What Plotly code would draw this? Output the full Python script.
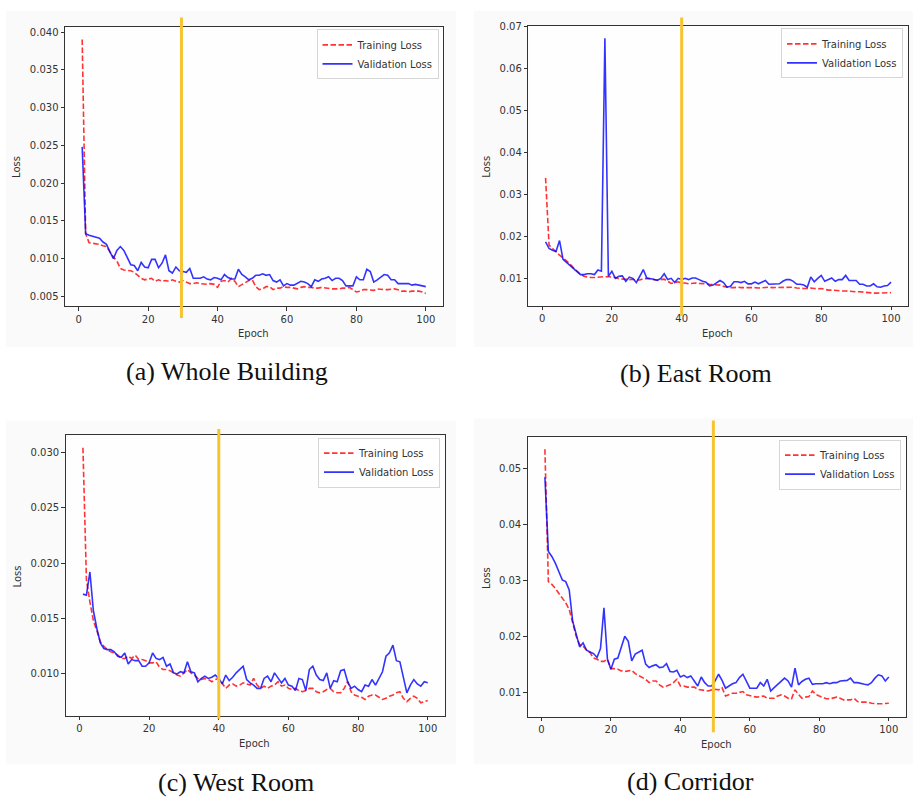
import plotly.graph_objects as go

epochs = list(range(1, 101))

train_whole = [0.0390, 0.0133, 0.0121, 0.0120, 0.0120, 0.0119, 0.0117, 0.0116, 0.0109, 0.0102,
               0.0097, 0.0087, 0.0085, 0.0085, 0.0084, 0.0082, 0.0078, 0.0074, 0.0072, 0.0073,
               0.0074, 0.0070, 0.0072, 0.0070, 0.0071, 0.0070, 0.0072, 0.0070, 0.0069, 0.0071,
               0.0069, 0.0067, 0.0067, 0.0068, 0.0067, 0.0066, 0.0066, 0.0067, 0.0066, 0.0062,
               0.0070, 0.0071, 0.0069, 0.0074, 0.0070, 0.0063, 0.0066, 0.0069, 0.0071, 0.0072,
               0.0063, 0.0059, 0.0060, 0.0063, 0.0063, 0.0059, 0.0061, 0.0061, 0.0063, 0.0062,
               0.0062, 0.0061, 0.0060, 0.0062, 0.0063, 0.0062, 0.0062, 0.0061, 0.0061, 0.0062,
               0.0061, 0.0060, 0.0060, 0.0060, 0.0060, 0.0061, 0.0061, 0.0062, 0.0059, 0.0056,
               0.0057, 0.0059, 0.0059, 0.0058, 0.0058, 0.0060, 0.0059, 0.0059, 0.0059, 0.0060,
               0.0060, 0.0059, 0.0057, 0.0057, 0.0056, 0.0057, 0.0057, 0.0057, 0.0056, 0.0054]
val_whole = [0.0248, 0.0133, 0.0131, 0.0130, 0.0129, 0.0127, 0.0122, 0.0119, 0.0109, 0.0100,
             0.0111, 0.0116, 0.0111, 0.0102, 0.0092, 0.0091, 0.0084, 0.0095, 0.0089, 0.0088,
             0.0099, 0.0099, 0.0088, 0.0094, 0.0105, 0.0084, 0.0081, 0.0089, 0.0084, 0.0083,
             0.0082, 0.0087, 0.0074, 0.0074, 0.0074, 0.0076, 0.0073, 0.0072, 0.0075, 0.0074,
             0.0072, 0.0079, 0.0075, 0.0073, 0.0073, 0.0086, 0.0079, 0.0076, 0.0072, 0.0074,
             0.0078, 0.0078, 0.0080, 0.0078, 0.0079, 0.0071, 0.0069, 0.0072, 0.0064, 0.0067,
             0.0065, 0.0065, 0.0067, 0.0070, 0.0069, 0.0067, 0.0063, 0.0072, 0.0070, 0.0073,
             0.0074, 0.0076, 0.0071, 0.0074, 0.0074, 0.0071, 0.0064, 0.0064, 0.0064, 0.0076,
             0.0072, 0.0072, 0.0086, 0.0083, 0.0069, 0.0072, 0.0075, 0.0079, 0.0078, 0.0072,
             0.0072, 0.0067, 0.0067, 0.0067, 0.0067, 0.0065, 0.0066, 0.0065, 0.0064, 0.0063]

train_east = [0.0340, 0.0180, 0.0172, 0.0163, 0.0156, 0.0150, 0.0143, 0.0135, 0.0126, 0.0118,
              0.0111, 0.0106, 0.0104, 0.0103, 0.0103, 0.0104, 0.0104, 0.0105, 0.0105, 0.0104,
              0.0103, 0.0100, 0.0099, 0.0099, 0.0098, 0.0099, 0.0097, 0.0097, 0.0100, 0.0101,
              0.0099, 0.0098, 0.0097, 0.0098, 0.0099, 0.0094, 0.0089, 0.0091, 0.0093, 0.0090,
              0.0090, 0.0088, 0.0089, 0.0090, 0.0089, 0.0089, 0.0088, 0.0087, 0.0086, 0.0085,
              0.0085, 0.0082, 0.0080, 0.0079, 0.0079, 0.0080, 0.0079, 0.0079, 0.0080, 0.0079,
              0.0079, 0.0078, 0.0079, 0.0079, 0.0080, 0.0079, 0.0079, 0.0080, 0.0079, 0.0079,
              0.0079, 0.0080, 0.0078, 0.0077, 0.0077, 0.0077, 0.0078, 0.0077, 0.0076, 0.0077,
              0.0075, 0.0073, 0.0073, 0.0072, 0.0072, 0.0071, 0.0071, 0.0070, 0.0070, 0.0069,
              0.0069, 0.0068, 0.0067, 0.0067, 0.0066, 0.0066, 0.0066, 0.0066, 0.0066, 0.0067]
val_east = [0.0188, 0.0172, 0.0168, 0.0165, 0.0191, 0.0146, 0.0139, 0.0132, 0.0124, 0.0118,
            0.0110, 0.0110, 0.0112, 0.0112, 0.0110, 0.0121, 0.0118, 0.0672, 0.0106, 0.0118,
            0.0101, 0.0106, 0.0107, 0.0094, 0.0104, 0.0101, 0.0091, 0.0106, 0.0122, 0.0102,
            0.0101, 0.0099, 0.0096, 0.0101, 0.0112, 0.0098, 0.0101, 0.0091, 0.0101, 0.0098,
            0.0101, 0.0098, 0.0102, 0.0102, 0.0098, 0.0094, 0.0092, 0.0083, 0.0085, 0.0091,
            0.0096, 0.0091, 0.0080, 0.0082, 0.0093, 0.0093, 0.0091, 0.0094, 0.0088, 0.0088,
            0.0092, 0.0088, 0.0093, 0.0096, 0.0087, 0.0087, 0.0088, 0.0088, 0.0094, 0.0098,
            0.0098, 0.0094, 0.0087, 0.0087, 0.0085, 0.0080, 0.0104, 0.0093, 0.0101, 0.0108,
            0.0094, 0.0098, 0.0102, 0.0094, 0.0098, 0.0098, 0.0108, 0.0096, 0.0096, 0.0096,
            0.0087, 0.0087, 0.0083, 0.0083, 0.0088, 0.0081, 0.0080, 0.0083, 0.0084, 0.0092]

train_west = [0.0304, 0.0185, 0.0165, 0.0148, 0.0139, 0.0129, 0.0125, 0.0122, 0.0120, 0.0119,
              0.0117, 0.0114, 0.0114, 0.0116, 0.0114, 0.0117, 0.0113, 0.0113, 0.0112, 0.0110,
              0.0110, 0.0111, 0.0106, 0.0104, 0.0104, 0.0103, 0.0101, 0.0099, 0.0098, 0.0101,
              0.0104, 0.0101, 0.0099, 0.0096, 0.0095, 0.0096, 0.0095, 0.0093, 0.0095, 0.0096,
              0.0092, 0.0087, 0.0090, 0.0091, 0.0089, 0.0090, 0.0092, 0.0091, 0.0090, 0.0096,
              0.0090, 0.0087, 0.0089, 0.0087, 0.0089, 0.0090, 0.0093, 0.0089, 0.0090, 0.0087,
              0.0086, 0.0087, 0.0085, 0.0084, 0.0085, 0.0087, 0.0087, 0.0084, 0.0083, 0.0084,
              0.0086, 0.0087, 0.0084, 0.0083, 0.0083, 0.0087, 0.0093, 0.0084, 0.0081, 0.0080,
              0.0079, 0.0077, 0.0080, 0.0081, 0.0081, 0.0079, 0.0077, 0.0078, 0.0080, 0.0081,
              0.0083, 0.0084, 0.0078, 0.0075, 0.0078, 0.0080, 0.0078, 0.0074, 0.0075, 0.0076]
val_west = [0.0172, 0.0171, 0.0192, 0.0157, 0.0141, 0.0128, 0.0123, 0.0122, 0.0122, 0.0120,
            0.0116, 0.0115, 0.0119, 0.0109, 0.0113, 0.0112, 0.0112, 0.0107, 0.0107, 0.0110,
            0.0119, 0.0114, 0.0113, 0.0115, 0.0107, 0.0109, 0.0101, 0.0100, 0.0102, 0.0101,
            0.0111, 0.0102, 0.0101, 0.0093, 0.0096, 0.0098, 0.0096, 0.0097, 0.0099, 0.0096,
            0.0091, 0.0099, 0.0094, 0.0097, 0.0101, 0.0104, 0.0107, 0.0095, 0.0092, 0.0090,
            0.0087, 0.0087, 0.0096, 0.0098, 0.0093, 0.0101, 0.0097, 0.0092, 0.0096, 0.0090,
            0.0089, 0.0085, 0.0096, 0.0095, 0.0085, 0.0104, 0.0107, 0.0099, 0.0095, 0.0094,
            0.0101, 0.0087, 0.0094, 0.0093, 0.0103, 0.0104, 0.0093, 0.0087, 0.0089, 0.0086,
            0.0084, 0.0090, 0.0089, 0.0095, 0.0090, 0.0096, 0.0102, 0.0116, 0.0119, 0.0126,
            0.0112, 0.0111, 0.0097, 0.0083, 0.0090, 0.0095, 0.0091, 0.0089, 0.0093, 0.0092]

train_corr = [0.0535, 0.0298, 0.0293, 0.0286, 0.0277, 0.0269, 0.0260, 0.0248, 0.0221, 0.0200,
              0.0185, 0.0182, 0.0175, 0.0171, 0.0161, 0.0159, 0.0155, 0.0155, 0.0159, 0.0142,
              0.0142, 0.0141, 0.0138, 0.0137, 0.0138, 0.0139, 0.0133, 0.0130, 0.0127, 0.0123,
              0.0117, 0.0120, 0.0120, 0.0113, 0.0109, 0.0111, 0.0113, 0.0117, 0.0123, 0.0111,
              0.0111, 0.0109, 0.0109, 0.0109, 0.0105, 0.0104, 0.0104, 0.0102, 0.0104, 0.0105,
              0.0104, 0.0108, 0.0093, 0.0096, 0.0098, 0.0098, 0.0099, 0.0101, 0.0095, 0.0093,
              0.0092, 0.0091, 0.0092, 0.0093, 0.0089, 0.0089, 0.0089, 0.0093, 0.0095, 0.0093,
              0.0089, 0.0088, 0.0104, 0.0096, 0.0089, 0.0091, 0.0092, 0.0102, 0.0096, 0.0093,
              0.0091, 0.0088, 0.0088, 0.0089, 0.0091, 0.0089, 0.0086, 0.0086, 0.0086, 0.0089,
              0.0083, 0.0082, 0.0082, 0.0082, 0.0080, 0.0079, 0.0079, 0.0079, 0.0079, 0.0080]
val_corr = [0.0485, 0.0352, 0.0343, 0.0331, 0.0316, 0.0301, 0.0298, 0.0283, 0.0227, 0.0203,
            0.0181, 0.0188, 0.0175, 0.0172, 0.0169, 0.0162, 0.0178, 0.0251, 0.0159, 0.0141,
            0.0159, 0.0161, 0.0181, 0.0200, 0.0191, 0.0156, 0.0168, 0.0172, 0.0175, 0.0150,
            0.0144, 0.0147, 0.0149, 0.0144, 0.0145, 0.0151, 0.0137, 0.0136, 0.0139, 0.0127,
            0.0130, 0.0126, 0.0129, 0.0120, 0.0111, 0.0127, 0.0117, 0.0111, 0.0111, 0.0120,
            0.0132, 0.0121, 0.0107, 0.0111, 0.0115, 0.0117, 0.0126, 0.0132, 0.0120, 0.0107,
            0.0107, 0.0107, 0.0117, 0.0111, 0.0123, 0.0102, 0.0108, 0.0114, 0.0120, 0.0125,
            0.0120, 0.0109, 0.0143, 0.0113, 0.0119, 0.0123, 0.0125, 0.0114, 0.0115, 0.0115,
            0.0115, 0.0117, 0.0115, 0.0117, 0.0117, 0.0120, 0.0120, 0.0121, 0.0125, 0.0117,
            0.0117, 0.0115, 0.0114, 0.0113, 0.0117, 0.0125, 0.0131, 0.0129, 0.0120, 0.0127]

captions = ["(a) Whole Building", "(b) East Room", "(c) West Room", "(d) Corridor"]
best_epochs = [29.6, 40, 40, 49.5]
y_ticks = [[0.005, 0.010, 0.015, 0.020, 0.025, 0.030, 0.035, 0.040],
           [0.01, 0.02, 0.03, 0.04, 0.05, 0.06, 0.07],
           [0.010, 0.015, 0.020, 0.025, 0.030],
           [0.01, 0.02, 0.03, 0.04, 0.05]]
y_formats = [".3f", ".2f", ".3f", ".2f"]
x_ticks = [0, 20, 40, 60, 80, 100]

W, H = 915, 804

def px(x):
    return x / W

def py(y):
    return 1 - y / H

# pixel boxes of the four axes: (left, top, right, bottom)
boxes = [(65, 22, 443, 303), (528.3, 20.7, 908.3, 302.7),
         (65.7, 432.7, 445, 715), (527.7, 434.3, 906, 716)]
panel_bg = [(6, 6, 456, 344), (474, 6, 913, 344), (6, 418, 456, 764), (474, 416, 913, 764)]
legend_pos = [(438.5, 24.5), (903, 23.5), (440, 435.3), (901, 437.3)]
yellow_span = [(12.7, 315), (12.7, 313), (426.7, 718.3), (418, 731.7)]
loss_pos = [(17, 163), (486.7, 163), (17, 575), (486.7, 577)]
epoch_pos = [(253, 331), (717.7, 331), (254, 743), (716.7, 744)]
caption_pos = [(227, 369), (696, 371), (236, 782), (690, 781)]

series = [(train_whole, val_whole), (train_east, val_east),
          (train_west, val_west), (train_corr, val_corr)]

RED = "rgba(255,0,0,0.8)"
BLUE = "rgba(0,0,255,0.8)"
TXT = "#333333"
FONT = "DejaVu Sans"

fig = go.Figure()
shapes = []
annotations = []
layout = {}

for i, (tr, va) in enumerate(series):
    n = "" if i == 0 else str(i + 1)
    xa, ya = "x" + n, "y" + n
    lg = "legend" + n
    fig.add_trace(go.Scatter(x=epochs, y=tr, mode="lines", name="Training Loss",
                             line=dict(color=RED, width=1.6, dash="5.5px,2.5px"),
                             xaxis=xa, yaxis=ya, legend=lg))
    fig.add_trace(go.Scatter(x=epochs, y=va, mode="lines", name="Validation Loss",
                             line=dict(color=BLUE, width=1.6),
                             xaxis=xa, yaxis=ya, legend=lg))
    allv = tr + va
    lo, hi = min(allv), max(allv)
    span = hi - lo
    l, t, r, b = boxes[i]
    common = dict(showgrid=False, zeroline=False, showline=True, mirror=True,
                  linecolor="#333333", linewidth=1, ticks="outside", ticklen=3.5,
                  tickwidth=1, tickcolor="#333333",
                  tickfont=dict(family=FONT, size=10, color=TXT))
    layout["xaxis" + n] = dict(domain=[px(l), px(r)], anchor=ya,
                               range=[1 - 0.05 * 99, 100 + 0.05 * 99],
                               tickvals=x_ticks, **common)
    layout["yaxis" + n] = dict(domain=[py(b), py(t)], anchor=xa,
                               range=[lo - 0.05 * span, hi + 0.05 * span],
                               tickvals=y_ticks[i], tickformat=y_formats[i], **common)
    lx, ly = legend_pos[i]
    layout[lg] = dict(x=px(lx), y=py(ly), xanchor="right", yanchor="top",
                      bgcolor="rgba(255,255,255,0.85)", bordercolor="#d6d6d6",
                      borderwidth=1, font=dict(family=FONT, size=10, color=TXT),
                      itemwidth=30, tracegroupgap=0)
    # panel background (figure face) and white axes face
    x0, y0, x1, y1 = panel_bg[i]
    shapes.append(dict(type="rect", xref="paper", yref="paper",
                       x0=px(x0), x1=px(x1), y0=py(y1), y1=py(y0),
                       fillcolor="#fafafa", line=dict(width=0), layer="below"))
    shapes.append(dict(type="rect", xref="paper", yref="paper",
                       x0=px(l), x1=px(r), y0=py(b), y1=py(t),
                       fillcolor="#fefefe", line=dict(width=0), layer="below"))
    # best epoch marker
    ys0, ys1 = yellow_span[i]
    shapes.append(dict(type="line", xref=xa, yref="paper",
                       x0=best_epochs[i], x1=best_epochs[i], y0=py(ys1), y1=py(ys0),
                       line=dict(color="#F7C431", width=3), layer="above"))
    ax_, ay_ = loss_pos[i]
    annotations.append(dict(text="Loss", x=px(ax_), y=py(ay_), xref="paper", yref="paper",
                            xanchor="center", yanchor="middle",
                            showarrow=False, textangle=-90,
                            font=dict(family=FONT, size=10, color=TXT)))
    ex, ey = epoch_pos[i]
    annotations.append(dict(text="Epoch", x=px(ex), y=py(ey), xref="paper", yref="paper",
                            xanchor="center", yanchor="middle",
                            showarrow=False, font=dict(family=FONT, size=10, color=TXT)))
    cx, cy = caption_pos[i]
    annotations.append(dict(text=captions[i], x=px(cx), y=py(cy), xref="paper", yref="paper",
                            xanchor="center", yanchor="middle",
                            showarrow=False,
                            font=dict(family="Liberation Serif", size=26, color="#111111")))

fig.update_layout(width=W, height=H, margin=dict(l=0, r=0, t=0, b=0),
                  paper_bgcolor="white", plot_bgcolor="#fefefe",
                  shapes=shapes, annotations=annotations, **layout)

fig.write_html("out.html")
